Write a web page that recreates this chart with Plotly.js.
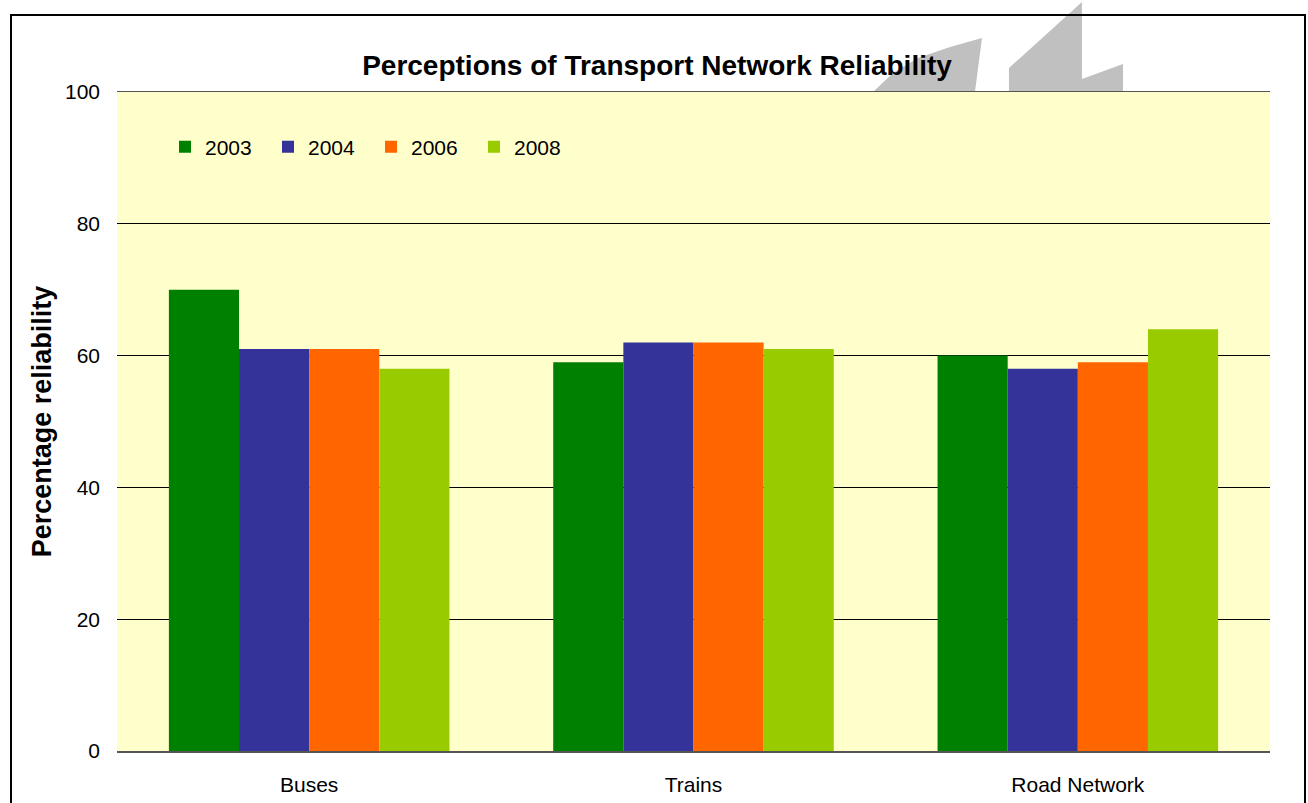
<!DOCTYPE html>
<html>
<head>
<meta charset="utf-8">
<script src="https://cdn.plot.ly/plotly-3.0.1.min.js"></script>
<style>
  html, body { margin: 0; padding: 0; background: #ffffff; }
  #chart { width: 1308px; height: 803px; }
</style>
</head>
<body>
<div id="chart"></div>
<script>
// ---- data ----
const categories = ["Buses", "Trains", "Road Network"];
const seriesNames = ["2003", "2004", "2006", "2008"];
const values2003 = [70, 59, 60];
const values2004 = [61, 62, 58];
const values2006 = [61, 62, 59];
const values2008 = [58, 61, 64];
const yTicks = [0, 20, 40, 60, 80, 100];

const seriesValues = [values2003, values2004, values2006, values2008];
const seriesColors = ["#008000", "#333399", "#FF6600", "#99CC00"];

const traces = seriesNames.map((name, i) => ({
  type: "bar",
  name: name,
  x: categories,
  y: seriesValues[i],
  marker: { color: seriesColors[i], line: { width: 0 } },
  hoverinfo: "x+y+name"
}));

// page geometry
const W = 1308, H = 803;
const M = { l: 117, r: 38, t: 92, b: 52 };
const PW = W - M.l - M.r, PH = H - M.t - M.b;
const px = x => (x - M.l) / PW;
const py = y => (H - M.b - y) / PH;
function poly(pts) {
  return pts.map((p, i) => (i === 0 ? "M" : "L") + px(p[0]).toFixed(4) + "," + py(p[1]).toFixed(4)).join(" ") + " Z";
}

const FONT = "Liberation Sans, Arial, sans-serif";

const layout = {
  width: W,
  height: H,
  margin: M,
  paper_bgcolor: "#ffffff",
  plot_bgcolor: "#FFFFCC",
  font: { family: FONT, color: "#000000", size: 21 },
  barmode: "group",
  bargap: 0.27,
  bargroupgap: 0,
  title: {
    text: "<b>Perceptions of Transport Network Reliability</b>",
    font: { size: 28, family: FONT, color: "#000" },
    x: 657 / W, xref: "container", xanchor: "center",
    y: 1 - 65 / H, yref: "container", yanchor: "middle"
  },
  xaxis: {
    type: "category",
    showgrid: false,
    showline: true,
    mirror: true,
    linecolor: "#555555",
    linewidth: 1.5,
    ticks: "",
    ticklabelstandoff: 14,
    tickfont: { size: 21 },
    zeroline: false
  },
  yaxis: {
    range: [0, 100],
    tickvals: yTicks,
    ticktext: yTicks.map(String),
    showgrid: true,
    gridcolor: "#000000",
    gridwidth: 1,
    showline: false,
    zeroline: false,
    ticks: "",
    ticklabelstandoff: 16,
    tickfont: { size: 21 },
    title: {
      text: "<b>Percentage reliability</b>",
      font: { size: 27 },
      standoff: 5
    }
  },
  legend: {
    orientation: "h",
    x: px(165), xanchor: "left",
    y: py(147), yanchor: "middle",
    bgcolor: "rgba(0,0,0,0)",
    font: { size: 21 },
    itemwidth: 30,
    entrywidth: 58,
    entrywidthmode: "pixels",
    traceorder: "normal"
  },
  shapes: [
    // frame around the whole chart
    { type: "rect", xref: "paper", yref: "paper",
      x0: px(11), x1: px(1305), y0: py(830), y1: py(15),
      line: { color: "#000", width: 2 }, fillcolor: "rgba(0,0,0,0)", layer: "above" },
    // grey logo fragments above the plot area
    { type: "path", xref: "paper", yref: "paper", layer: "below",
      path: poly([[873, 92], [893, 73], [918, 58], [950, 47], [982, 38], [975, 92]]),
      fillcolor: "#C0C0C0", line: { width: 0 } },
    { type: "path", xref: "paper", yref: "paper", layer: "below",
      path: poly([[1009, 92], [1009, 68], [1082, 2], [1082, 79], [1123, 64], [1123, 92]]),
      fillcolor: "#C0C0C0", line: { width: 0 } }
  ]
};

Plotly.newPlot("chart", traces, layout, { displayModeBar: false, staticPlot: true });
</script>
</body>
</html>
